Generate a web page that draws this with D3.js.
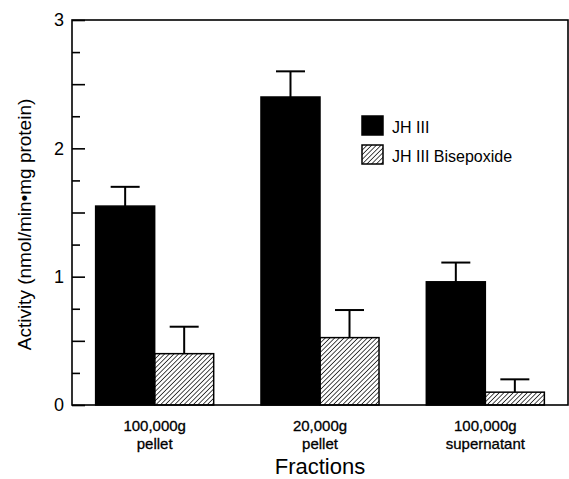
<!DOCTYPE html>
<html>
<head>
<meta charset="utf-8">
<script src="https://cdn.jsdelivr.net/npm/d3@7"></script>
<style>
  body { margin: 0; background: #fff; }
  svg { font-family: "Liberation Sans", Arial, Helvetica, sans-serif; }
</style>
</head>
<body>
<svg id="chart" width="569" height="479"></svg>
<script>
// data
let categories = ["100,000g pellet", "20,000g pellet", "100,000g supernatant"];
let categoryLines = [["100,000g", "pellet"], ["20,000g", "pellet"], ["100,000g", "supernatant"]];
let seriesNames = ["JH III", "JH III Bisepoxide"];
let jh3 = [1.55, 2.40, 0.96];
let jh3Err = [0.15, 0.20, 0.15];
let bisep = [0.40, 0.525, 0.10];
let bisepErr = [0.21, 0.215, 0.10];
let yLabels = [0, 1, 2, 3];

let svg = d3.select("#chart");
let plotLeft = 72, plotRight = 568, plotTop = 20, plotBottom = 405;

// hatch pattern for the bisepoxide bars
svg.append("defs").append("pattern")
    .attr("id", "hatch")
    .attr("patternUnits", "userSpaceOnUse")
    .attr("width", 3.3).attr("height", 3.3)
    .attr("patternTransform", "rotate(45)")
    .append("line")
    .attr("x1", 0).attr("y1", 0).attr("x2", 0).attr("y2", 3.3)
    .attr("stroke", "#000").attr("stroke-width", 1.4);

let x0 = d3.scaleBand().domain(categories).range([plotLeft, plotRight])
    .paddingInner(0.286).paddingOuter(0.143);
let x1 = d3.scaleBand().domain(seriesNames).range([0, x0.bandwidth()]);
let y = d3.scaleLinear().domain([0, 3]).range([plotBottom, plotTop]);

let rows = categories.map((c, i) => [
    {cat: c, s: seriesNames[0], v: jh3[i], e: jh3Err[i]},
    {cat: c, s: seriesNames[1], v: bisep[i], e: bisepErr[i]}
]).flat();

let fillFor = s => s === seriesNames[0] ? "#000" : "url(#hatch)";

// bars
svg.selectAll("rect.bar").data(rows).join("rect")
    .attr("class", "bar")
    .attr("x", d => x0(d.cat) + x1(d.s))
    .attr("y", d => y(d.v))
    .attr("width", x1.bandwidth())
    .attr("height", d => y(0) - y(d.v))
    .attr("fill", d => fillFor(d.s))
    .attr("stroke", "#000").attr("stroke-width", 1.5);

// error bars (upper only)
let cx = d => x0(d.cat) + x1(d.s) + x1.bandwidth() / 2;
svg.selectAll("line.stem").data(rows).join("line")
    .attr("class", "stem")
    .attr("x1", cx).attr("x2", cx)
    .attr("y1", d => y(d.v)).attr("y2", d => y(d.v + d.e))
    .attr("stroke", "#000").attr("stroke-width", 2);
svg.selectAll("line.cap").data(rows).join("line")
    .attr("class", "cap")
    .attr("x1", d => cx(d) - 14.5).attr("x2", d => cx(d) + 14.5)
    .attr("y1", d => y(d.v + d.e)).attr("y2", d => y(d.v + d.e))
    .attr("stroke", "#000").attr("stroke-width", 2);

// frame
svg.append("rect")
    .attr("x", plotLeft).attr("y", plotTop)
    .attr("width", plotRight - plotLeft).attr("height", plotBottom - plotTop)
    .attr("fill", "none").attr("stroke", "#000").attr("stroke-width", 1.6);

// y axis: quarter ticks, half ticks, labelled integers (all pointing inward)
svg.append("g").attr("transform", `translate(${plotLeft},0)`)
    .call(d3.axisLeft(y).tickValues(d3.range(0.25, 3, 0.5)).tickSizeInner(-8).tickSizeOuter(0).tickFormat(""))
    .call(g => g.select(".domain").remove());
svg.append("g").attr("transform", `translate(${plotLeft},0)`)
    .call(d3.axisLeft(y).tickValues(d3.range(0.5, 3, 1)).tickSizeInner(-13).tickSizeOuter(0).tickFormat(""))
    .call(g => g.select(".domain").remove());
let yAxis = svg.append("g").attr("transform", `translate(${plotLeft},0)`)
    .call(d3.axisLeft(y).tickValues(yLabels).tickSizeInner(-13).tickSizeOuter(0).tickPadding(8).tickFormat(d3.format("d")));
yAxis.select(".domain").remove();
yAxis.selectAll("text").attr("font-size", 18).attr("fill", "#000").attr("font-family", "inherit");
svg.selectAll(".tick line").attr("stroke", "#000").attr("stroke-width", 1.6);

// category labels, two lines each
categoryLines.forEach((lines, i) => {
    lines.forEach((t, j) => {
        svg.append("text")
            .attr("x", x0(categories[i]) + x0.bandwidth() / 2)
            .attr("y", 431 + j * 17.5)
            .attr("text-anchor", "middle")
            .attr("font-size", 15)
            .attr("stroke", "#000").attr("stroke-width", 0.3)
            .text(t);
    });
});

// axis titles
svg.append("text")
    .attr("x", (plotLeft + plotRight) / 2).attr("y", 474)
    .attr("text-anchor", "middle").attr("font-size", 22)
    .text("Fractions");
svg.append("text")
    .attr("transform", `translate(31,${(plotTop + plotBottom) / 2 + 12}) rotate(-90)`)
    .attr("text-anchor", "middle").attr("font-size", 19)
    .text("Activity (nmol/min\u2022mg protein)");

// legend
let legend = svg.selectAll("g.legend").data(seriesNames).join("g")
    .attr("class", "legend")
    .attr("transform", (d, i) => `translate(362,${116 + i * 29})`);
legend.append("rect")
    .attr("width", 21).attr("height", 19)
    .attr("fill", d => fillFor(d))
    .attr("stroke", "#000").attr("stroke-width", 1.5);
legend.append("text")
    .attr("x", 30).attr("y", 17)
    .attr("font-size", 16)
    .text(d => d);
</script>
</body>
</html>
